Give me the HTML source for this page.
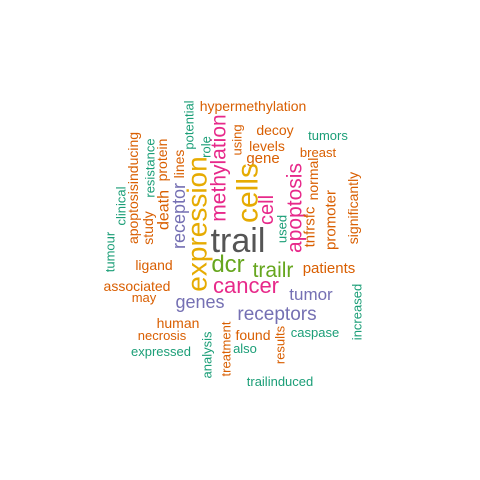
<!DOCTYPE html>
<html><head><meta charset="utf-8"><style>
html,body{margin:0;padding:0;background:#fff}
svg{display:block}
text{font-family:"Liberation Sans",Arial,sans-serif}
</style></head><body>
<svg id="cloud" width="480" height="480" viewBox="0 0 480 480"></svg>
<script>
const words = ["trail","dcr","trailr","patients","cancer","tumor","genes","receptors","associated","may","ligand","human","necrosis","expressed","found","also","caspase","trailinduced","hypermethylation","decoy","levels","gene","tumors","breast",
"expression","cells","methylation","cell","apoptosis","receptor","lines","protein","death","study","resistance","apoptosisinducing","clinical","tumour","potential","role","using","used","tnfrsfc","normal","promoter","significantly","increased","analysis","treatment","results"];
const sizes = [34,24,21,15,22,17,18,19,14,13,14,14,13,13,14,13,13,13,14,14,14,15,13,13,
28,30,21,20,21,18,14,14,16,14,13,14,13,13,13,13,13,13,15,14,15,14,13,13,13,13];
const colors = ["#555555","#66A61E","#66A61E","#D95F02","#E7298A","#7570B3","#7570B3","#7570B3","#D95F02","#D95F02","#D95F02","#D95F02","#D95F02","#1B9E77","#D95F02","#1B9E77","#1B9E77","#1B9E77","#D95F02","#D95F02","#D95F02","#D95F02","#1B9E77","#D95F02",
"#E6AB02","#E6AB02","#E7298A","#E7298A","#E7298A","#7570B3","#D95F02","#D95F02","#D95F02","#D95F02","#1B9E77","#D95F02","#1B9E77","#1B9E77","#1B9E77","#1B9E77","#D95F02","#1B9E77","#D95F02","#D95F02","#D95F02","#D95F02","#1B9E77","#1B9E77","#D95F02","#D95F02"];
const cx = [238,228,273,329,246,311,200,277,137,144,154,178,162,161,253,245,315,280,253,275,267,263,328,318,
197,248,219,267,295,179,179,162,164,148,150,133,121,110,189,206,237,282,310,313,331,353,357,207,226,280];
const cy = [252,272,277,273,293,300,308,320,291,302,270,328,340,356,340,353,337,386,111,135,151,163,140,157,
224,193,168,210,208,216,164,160,210,228,168,188,206,252,125,147,140,229,227,179,220,208,312,355,349,345];
const vertical = [0,0,0,0,0,0,0,0,0,0,0,0,0,0,0,0,0,0,0,0,0,0,0,0,
1,1,1,1,1,1,1,1,1,1,1,1,1,1,1,1,1,1,1,1,1,1,1,1,1,1];
const svg = document.getElementById('cloud');
const NS = "http://www.w3.org/2000/svg";
for (let i = 0; i < words.length; i++) {
  const t = document.createElementNS(NS, 'text');
  t.textContent = words[i];
  t.setAttribute('font-size', sizes[i]);
  t.setAttribute('fill', colors[i]);
  t.setAttribute('text-anchor', 'middle');
  if (vertical[i]) {
    t.setAttribute('dominant-baseline', 'central');
    t.setAttribute('x', 0); t.setAttribute('y', 0);
    t.setAttribute('transform', 'translate(' + cx[i] + ',' + cy[i] + ') rotate(-90)');
  } else {
    t.setAttribute('x', cx[i]); t.setAttribute('y', cy[i]);
  }
  
  
  svg.appendChild(t);
}
</script>
</body></html>
